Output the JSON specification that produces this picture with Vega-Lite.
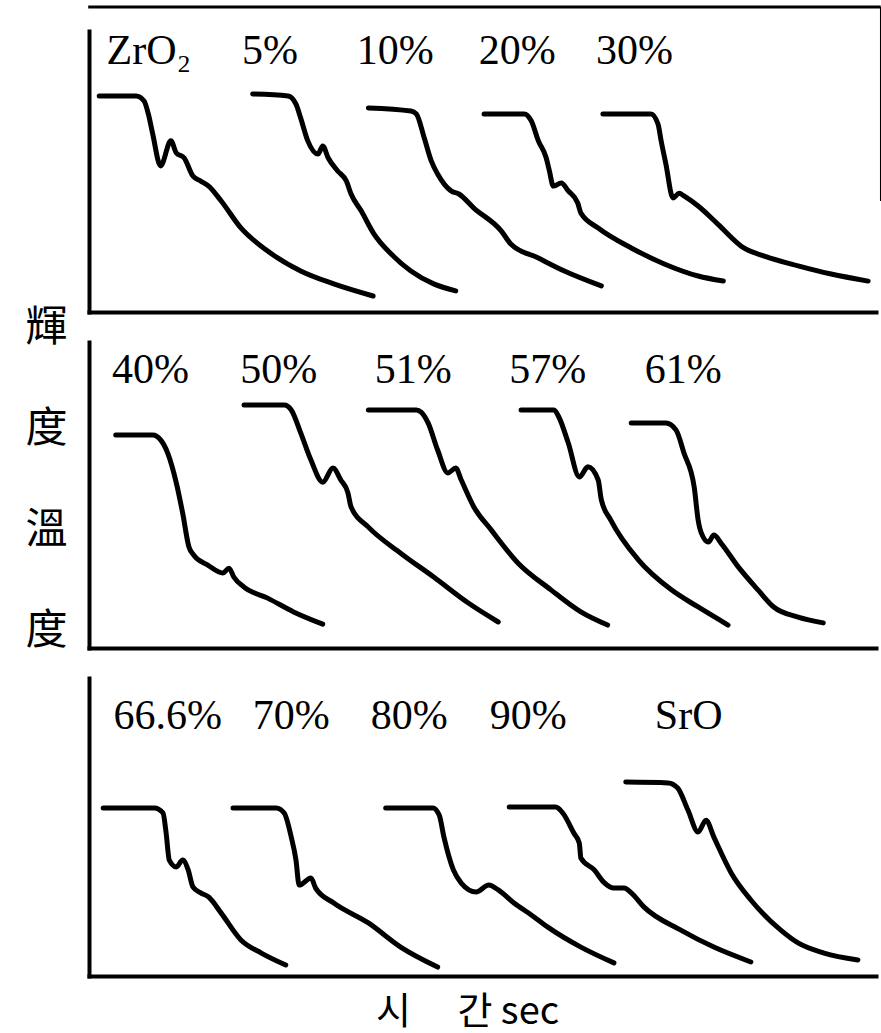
{
  "$schema": "https://vega.github.io/schema/vega-lite/v6.json",
  "background": "white",
  "padding": {"left": 24, "top": 5, "right": 0, "bottom": 45},
  "bounds": "flush",
  "spacing": 30,
  "config": {
    "view": {"stroke": null},
    "axis": {"domainColor": "black", "domainWidth": 4, "domainCap": "square", "ticks": false, "labels": false, "grid": false}
  },
  "datasets": {
    "curves": [
      {"p":1,"s":"ZrO2","t":1.3,"v":76.9},{"p":1,"s":"ZrO2","t":6.0,"v":76.9},{"p":1,"s":"ZrO2","t":7.0,"v":75.1},{"p":1,"s":"ZrO2","t":7.6,"v":69.8},{"p":1,"s":"ZrO2","t":8.1,"v":63.3},{"p":1,"s":"ZrO2","t":9.1,"v":52.0},{"p":1,"s":"ZrO2","t":10.4,"v":60.9},{"p":1,"s":"ZrO2","t":11.1,"v":56.6},{"p":1,"s":"ZrO2","t":12.1,"v":54.8},{"p":1,"s":"ZrO2","t":13.2,"v":48.4},{"p":1,"s":"ZrO2","t":14.2,"v":46.6},{"p":1,"s":"ZrO2","t":15.2,"v":44.8},{"p":1,"s":"ZrO2","t":16.8,"v":39.5},{"p":1,"s":"ZrO2","t":19.3,"v":29.9},{"p":1,"s":"ZrO2","t":22.7,"v":21.7},{"p":1,"s":"ZrO2","t":26.9,"v":14.6},{"p":1,"s":"ZrO2","t":31.1,"v":10.0},{"p":1,"s":"ZrO2","t":36.1,"v":5.7},
      {"p":1,"s":"5%","t":20.8,"v":77.6},{"p":1,"s":"5%","t":25.3,"v":76.9},{"p":1,"s":"5%","t":26.3,"v":74.0},{"p":1,"s":"5%","t":26.9,"v":69.0},{"p":1,"s":"5%","t":27.8,"v":60.9},{"p":1,"s":"5%","t":29.1,"v":56.2},{"p":1,"s":"5%","t":29.7,"v":59.1},{"p":1,"s":"5%","t":30.4,"v":54.8},{"p":1,"s":"5%","t":31.6,"v":50.2},{"p":1,"s":"5%","t":32.7,"v":46.6},{"p":1,"s":"5%","t":33.3,"v":42.0},{"p":1,"s":"5%","t":34.6,"v":35.9},{"p":1,"s":"5%","t":36.2,"v":27.8},{"p":1,"s":"5%","t":38.4,"v":20.6},{"p":1,"s":"5%","t":40.9,"v":14.6},{"p":1,"s":"5%","t":43.8,"v":10.0},{"p":1,"s":"5%","t":46.6,"v":7.5},
      {"p":1,"s":"10%","t":35.5,"v":72.6},{"p":1,"s":"10%","t":40.9,"v":71.5},{"p":1,"s":"10%","t":41.6,"v":70.5},{"p":1,"s":"10%","t":42.6,"v":61.9},{"p":1,"s":"10%","t":43.5,"v":53.7},{"p":1,"s":"10%","t":44.3,"v":49.1},{"p":1,"s":"10%","t":46.0,"v":43.1},{"p":1,"s":"10%","t":47.0,"v":42.0},{"p":1,"s":"10%","t":48.9,"v":37.0},{"p":1,"s":"10%","t":52.4,"v":28.8},{"p":1,"s":"10%","t":53.6,"v":24.2},{"p":1,"s":"10%","t":57.1,"v":19.2},{"p":1,"s":"10%","t":60.4,"v":14.6},{"p":1,"s":"10%","t":65.1,"v":9.3},
      {"p":1,"s":"20%","t":50.2,"v":70.5},{"p":1,"s":"20%","t":55.3,"v":70.5},{"p":1,"s":"20%","t":56.2,"v":68.0},{"p":1,"s":"20%","t":57.1,"v":60.9},{"p":1,"s":"20%","t":58.1,"v":54.8},{"p":1,"s":"20%","t":58.5,"v":50.2},{"p":1,"s":"20%","t":59.0,"v":44.8},{"p":1,"s":"20%","t":60.0,"v":45.9},{"p":1,"s":"20%","t":60.9,"v":43.1},{"p":1,"s":"20%","t":62.1,"v":38.8},{"p":1,"s":"20%","t":62.5,"v":35.2},{"p":1,"s":"20%","t":64.7,"v":29.9},{"p":1,"s":"20%","t":68.9,"v":22.8},{"p":1,"s":"20%","t":73.1,"v":17.1},{"p":1,"s":"20%","t":77.4,"v":12.8},{"p":1,"s":"20%","t":80.6,"v":11.0},
      {"p":1,"s":"30%","t":65.3,"v":70.5},{"p":1,"s":"30%","t":71.4,"v":70.5},{"p":1,"s":"30%","t":72.3,"v":66.9},{"p":1,"s":"30%","t":72.7,"v":60.9},{"p":1,"s":"30%","t":73.3,"v":52.7},{"p":1,"s":"30%","t":74.2,"v":40.6},{"p":1,"s":"30%","t":75.0,"v":42.3},{"p":1,"s":"30%","t":75.6,"v":41.3},{"p":1,"s":"30%","t":77.4,"v":37.7},{"p":1,"s":"30%","t":79.9,"v":31.3},{"p":1,"s":"30%","t":83.2,"v":22.8},{"p":1,"s":"30%","t":85.8,"v":19.9},{"p":1,"s":"30%","t":90.1,"v":16.4},{"p":1,"s":"30%","t":94.3,"v":13.5},{"p":1,"s":"30%","t":99.0,"v":11.0},
      {"p":2,"s":"40%","t":3.4,"v":69.6},{"p":2,"s":"40%","t":8.1,"v":69.6},{"p":2,"s":"40%","t":9.1,"v":68.0},{"p":2,"s":"40%","t":10.0,"v":63.7},{"p":2,"s":"40%","t":11.1,"v":53.9},{"p":2,"s":"40%","t":11.9,"v":44.1},{"p":2,"s":"40%","t":12.7,"v":33.0},{"p":2,"s":"40%","t":13.3,"v":30.4},{"p":2,"s":"40%","t":15.1,"v":27.1},{"p":2,"s":"40%","t":17.0,"v":24.5},{"p":2,"s":"40%","t":17.8,"v":26.1},{"p":2,"s":"40%","t":18.4,"v":23.2},{"p":2,"s":"40%","t":19.7,"v":19.9},{"p":2,"s":"40%","t":22.7,"v":16.3},{"p":2,"s":"40%","t":26.0,"v":11.8},{"p":2,"s":"40%","t":29.7,"v":7.8},
      {"p":2,"s":"50%","t":19.7,"v":79.4},{"p":2,"s":"50%","t":24.8,"v":79.4},{"p":2,"s":"50%","t":25.7,"v":77.8},{"p":2,"s":"50%","t":26.9,"v":70.3},{"p":2,"s":"50%","t":28.2,"v":61.4},{"p":2,"s":"50%","t":29.7,"v":54.2},{"p":2,"s":"50%","t":31.0,"v":58.8},{"p":2,"s":"50%","t":32.0,"v":54.9},{"p":2,"s":"50%","t":32.9,"v":50.7},{"p":2,"s":"50%","t":33.3,"v":46.1},{"p":2,"s":"50%","t":35.5,"v":39.5},{"p":2,"s":"50%","t":39.6,"v":31.0},{"p":2,"s":"50%","t":43.8,"v":23.2},{"p":2,"s":"50%","t":48.2,"v":14.7},{"p":2,"s":"50%","t":52.0,"v":8.5},
      {"p":2,"s":"51%","t":35.5,"v":77.8},{"p":2,"s":"51%","t":41.6,"v":77.8},{"p":2,"s":"51%","t":42.2,"v":77.1},{"p":2,"s":"51%","t":43.1,"v":73.5},{"p":2,"s":"51%","t":44.3,"v":64.7},{"p":2,"s":"51%","t":45.6,"v":57.2},{"p":2,"s":"51%","t":46.6,"v":58.8},{"p":2,"s":"51%","t":47.3,"v":54.9},{"p":2,"s":"51%","t":48.9,"v":46.1},{"p":2,"s":"51%","t":51.1,"v":38.6},{"p":2,"s":"51%","t":54.5,"v":27.8},{"p":2,"s":"51%","t":58.7,"v":19.0},{"p":2,"s":"51%","t":62.5,"v":11.8},{"p":2,"s":"51%","t":65.9,"v":7.5},
      {"p":2,"s":"57%","t":54.9,"v":77.8},{"p":2,"s":"57%","t":59.1,"v":77.8},{"p":2,"s":"57%","t":59.7,"v":75.5},{"p":2,"s":"57%","t":60.9,"v":67.0},{"p":2,"s":"57%","t":62.3,"v":55.9},{"p":2,"s":"57%","t":63.4,"v":59.2},{"p":2,"s":"57%","t":64.7,"v":54.9},{"p":2,"s":"57%","t":65.1,"v":48.4},{"p":2,"s":"57%","t":66.3,"v":41.8},{"p":2,"s":"57%","t":69.8,"v":28.8},{"p":2,"s":"57%","t":74.0,"v":19.0},{"p":2,"s":"57%","t":77.4,"v":13.4},{"p":2,"s":"57%","t":81.2,"v":7.5},
      {"p":2,"s":"61%","t":68.9,"v":73.5},{"p":2,"s":"61%","t":73.3,"v":73.5},{"p":2,"s":"61%","t":74.6,"v":71.2},{"p":2,"s":"61%","t":75.6,"v":63.7},{"p":2,"s":"61%","t":76.9,"v":52.6},{"p":2,"s":"61%","t":77.4,"v":41.8},{"p":2,"s":"61%","t":77.8,"v":37.6},{"p":2,"s":"61%","t":78.7,"v":34.6},{"p":2,"s":"61%","t":79.4,"v":36.9},{"p":2,"s":"61%","t":80.3,"v":34.3},{"p":2,"s":"61%","t":82.5,"v":26.5},{"p":2,"s":"61%","t":85.0,"v":19.0},{"p":2,"s":"61%","t":87.0,"v":13.4},{"p":2,"s":"61%","t":90.1,"v":10.1},{"p":2,"s":"61%","t":93.3,"v":8.2},
      {"p":3,"s":"66.6%","t":1.8,"v":56.4},{"p":3,"s":"66.6%","t":8.3,"v":56.4},{"p":3,"s":"66.6%","t":9.4,"v":54.7},{"p":3,"s":"66.6%","t":9.8,"v":48.0},{"p":3,"s":"66.6%","t":10.2,"v":38.9},{"p":3,"s":"66.6%","t":11.1,"v":36.6},{"p":3,"s":"66.6%","t":11.9,"v":38.9},{"p":3,"s":"66.6%","t":12.6,"v":35.6},{"p":3,"s":"66.6%","t":13.2,"v":29.9},{"p":3,"s":"66.6%","t":14.2,"v":27.9},{"p":3,"s":"66.6%","t":15.2,"v":26.5},{"p":3,"s":"66.6%","t":16.8,"v":21.1},{"p":3,"s":"66.6%","t":19.3,"v":12.1},{"p":3,"s":"66.6%","t":21.9,"v":7.7},{"p":3,"s":"66.6%","t":25.0,"v":3.7},
      {"p":3,"s":"70%","t":18.3,"v":56.4},{"p":3,"s":"70%","t":23.8,"v":56.4},{"p":3,"s":"70%","t":24.8,"v":54.7},{"p":3,"s":"70%","t":25.7,"v":46.6},{"p":3,"s":"70%","t":26.3,"v":38.9},{"p":3,"s":"70%","t":26.7,"v":30.5},{"p":3,"s":"70%","t":28.2,"v":32.9},{"p":3,"s":"70%","t":28.8,"v":29.5},{"p":3,"s":"70%","t":31.1,"v":24.5},{"p":3,"s":"70%","t":35.5,"v":17.8},{"p":3,"s":"70%","t":39.6,"v":9.7},{"p":3,"s":"70%","t":44.3,"v":3.0},
      {"p":3,"s":"80%","t":37.7,"v":56.4},{"p":3,"s":"80%","t":43.7,"v":56.4},{"p":3,"s":"80%","t":44.5,"v":54.0},{"p":3,"s":"80%","t":45.1,"v":46.6},{"p":3,"s":"80%","t":46.3,"v":35.6},{"p":3,"s":"80%","t":47.3,"v":31.2},{"p":3,"s":"80%","t":49.2,"v":28.2},{"p":3,"s":"80%","t":50.8,"v":30.5},{"p":3,"s":"80%","t":52.0,"v":28.9},{"p":3,"s":"80%","t":54.0,"v":24.5},{"p":3,"s":"80%","t":56.2,"v":20.5},{"p":3,"s":"80%","t":58.3,"v":16.4},{"p":3,"s":"80%","t":62.5,"v":9.7},{"p":3,"s":"80%","t":66.7,"v":4.4},
      {"p":3,"s":"90%","t":53.4,"v":56.7},{"p":3,"s":"90%","t":59.3,"v":56.7},{"p":3,"s":"90%","t":60.2,"v":54.7},{"p":3,"s":"90%","t":61.6,"v":48.0},{"p":3,"s":"90%","t":62.3,"v":44.6},{"p":3,"s":"90%","t":62.5,"v":39.6},{"p":3,"s":"90%","t":64.2,"v":35.6},{"p":3,"s":"90%","t":65.4,"v":31.5},{"p":3,"s":"90%","t":66.7,"v":29.5},{"p":3,"s":"90%","t":68.0,"v":29.5},{"p":3,"s":"90%","t":68.9,"v":27.9},{"p":3,"s":"90%","t":70.5,"v":23.2},{"p":3,"s":"90%","t":75.2,"v":15.4},{"p":3,"s":"90%","t":79.4,"v":9.7},{"p":3,"s":"90%","t":84.1,"v":4.7},
      {"p":3,"s":"SrO","t":68.2,"v":65.1},{"p":3,"s":"SrO","t":73.6,"v":64.8},{"p":3,"s":"SrO","t":74.8,"v":63.1},{"p":3,"s":"SrO","t":76.1,"v":55.7},{"p":3,"s":"SrO","t":77.4,"v":48.3},{"p":3,"s":"SrO","t":78.4,"v":52.3},{"p":3,"s":"SrO","t":79.4,"v":46.6},{"p":3,"s":"SrO","t":81.6,"v":34.6},{"p":3,"s":"SrO","t":84.1,"v":25.5},{"p":3,"s":"SrO","t":87.9,"v":15.4},{"p":3,"s":"SrO","t":90.1,"v":11.1},{"p":3,"s":"SrO","t":93.4,"v":7.7},{"p":3,"s":"SrO","t":97.7,"v":5.4}
    ],
    "labels": [
      {"p":1,"label":"ZrO₂","t":7.6,"v":88.3},{"p":1,"label":"5%","t":23.0,"v":88.3},{"p":1,"label":"10%","t":38.9,"v":88.3},{"p":1,"label":"20%","t":54.4,"v":88.3},{"p":1,"label":"30%","t":69.3,"v":88.3},
      {"p":2,"label":"40%","t":7.8,"v":86.6},{"p":2,"label":"50%","t":24.1,"v":86.6},{"p":2,"label":"51%","t":41.2,"v":86.6},{"p":2,"label":"57%","t":58.3,"v":86.6},{"p":2,"label":"61%","t":75.5,"v":86.6},
      {"p":3,"label":"66.6%","t":10.0,"v":82.9},{"p":3,"label":"70%","t":25.7,"v":82.9},{"p":3,"label":"80%","t":40.7,"v":82.9},{"p":3,"label":"90%","t":55.8,"v":82.9},{"p":3,"label":"SrO","t":76.2,"v":82.9}
    ],
    "frame": [
      {"x1": -0.1, "x2": 100.6, "y1": 108.5, "y2": 108.5, "w": 3},
      {"x1": 100.6, "x2": 100.6, "y1": 108.5, "y2": 39.5, "w": 1.5}
    ]
  },
  "vconcat": [
    {
      "width": 787, "height": 281,
      "layer": [
        {
          "data": {"name": "curves"},
          "transform": [{"filter": "datum.p == 1"}],
          "mark": {"type": "line", "color": "black", "strokeWidth": 5, "strokeCap": "round", "strokeJoin": "round", "interpolate": "monotone"},
          "encoding": {
            "x": {"field": "t", "type": "quantitative", "scale": {"domain": [0, 100], "nice": false, "zero": false}, "axis": {"title": null}},
            "y": {"field": "v", "type": "quantitative", "scale": {"domain": [0, 100], "nice": false, "zero": false}, "axis": {"title": null}},
            "detail": {"field": "s"}
          }
        },
        {
          "data": {"name": "labels"},
          "transform": [{"filter": "datum.p == 1"}],
          "mark": {"type": "text", "font": "Liberation Serif", "fontSize": 42, "align": "center", "baseline": "alphabetic", "color": "black"},
          "encoding": {
            "x": {"field": "t", "type": "quantitative"},
            "y": {"field": "v", "type": "quantitative"},
            "text": {"field": "label"}
          }
        },
        {
          "data": {"name": "frame"},
          "mark": {"type": "rule", "color": "black"},
          "encoding": {
            "x": {"field": "x1", "type": "quantitative"},
            "x2": {"field": "x2"},
            "y": {"field": "y1", "type": "quantitative"},
            "y2": {"field": "y2"},
            "strokeWidth": {"field": "w", "type": "quantitative", "scale": null}
          }
        }
      ]
    },
    {
      "width": 787, "height": 306,
      "layer": [
        {
          "data": {"name": "curves"},
          "transform": [{"filter": "datum.p == 2"}],
          "mark": {"type": "line", "color": "black", "strokeWidth": 5, "strokeCap": "round", "strokeJoin": "round", "interpolate": "monotone"},
          "encoding": {
            "x": {"field": "t", "type": "quantitative", "scale": {"domain": [0, 100], "nice": false, "zero": false}, "axis": {"title": null}},
            "y": {"field": "v", "type": "quantitative", "scale": {"domain": [0, 100], "nice": false, "zero": false},
                  "axis": {"title": ["輝", "度", "溫", "度"], "titleAngle": 0, "titleFont": "Noto Sans CJK TC", "titleFontSize": 42, "titleFontWeight": "normal", "titleColor": "black", "titleLineHeight": 101, "titleAlign": "center", "titleBaseline": "middle", "titleX": -43, "titleY": -15}},
            "detail": {"field": "s"}
          }
        },
        {
          "data": {"name": "labels"},
          "transform": [{"filter": "datum.p == 2"}],
          "mark": {"type": "text", "font": "Liberation Serif", "fontSize": 42, "align": "center", "baseline": "alphabetic", "color": "black"},
          "encoding": {
            "x": {"field": "t", "type": "quantitative"},
            "y": {"field": "v", "type": "quantitative"},
            "text": {"field": "label"}
          }
        }
      ]
    },
    {
      "width": 787, "height": 298,
      "layer": [
        {
          "data": {"name": "curves"},
          "transform": [{"filter": "datum.p == 3"}],
          "mark": {"type": "line", "color": "black", "strokeWidth": 5, "strokeCap": "round", "strokeJoin": "round", "interpolate": "monotone"},
          "encoding": {
            "x": {"field": "t", "type": "quantitative", "scale": {"domain": [0, 100], "nice": false, "zero": false},
                  "axis": {"title": "시　 간 sec", "titleFont": "Noto Sans CJK KR", "titleFontSize": 38, "titleFontWeight": "normal", "titleColor": "black", "titleAlign": "center", "titleBaseline": "alphabetic", "titleX": 378, "titleY": 47}},
            "y": {"field": "v", "type": "quantitative", "scale": {"domain": [0, 100], "nice": false, "zero": false}, "axis": {"title": null}},
            "detail": {"field": "s"}
          }
        },
        {
          "data": {"name": "labels"},
          "transform": [{"filter": "datum.p == 3"}],
          "mark": {"type": "text", "font": "Liberation Serif", "fontSize": 42, "align": "center", "baseline": "alphabetic", "color": "black"},
          "encoding": {
            "x": {"field": "t", "type": "quantitative"},
            "y": {"field": "v", "type": "quantitative"},
            "text": {"field": "label"}
          }
        }
      ]
    }
  ]
}
